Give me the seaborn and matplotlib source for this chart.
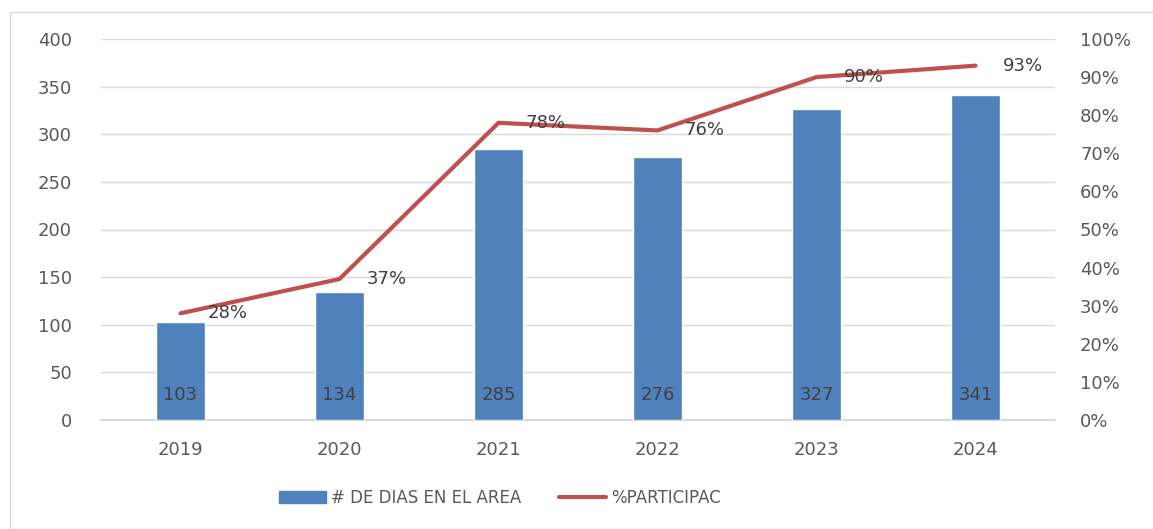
import numpy as np
import pandas as pd
import seaborn as sns
import matplotlib.pyplot as plt
import matplotlib.patches as mpatches
import matplotlib.lines as mlines
from matplotlib.ticker import FuncFormatter

years = ["2019", "2020", "2021", "2022", "2023", "2024"]
dias = [103, 134, 285, 276, 327, 341]
particip = [28, 37, 78, 76, 90, 93]

bar_label = "# DE DIAS EN EL AREA"
line_label = "%PARTICIPAC"

blue = "#4F81BD"
red = "#C0504D"
txt = "#595959"

sns.set_style("white")
plt.rcParams['font.family'] = ['DejaVu Sans']

df = pd.DataFrame({"year": years, "dias": dias, "pct": particip})

fig = plt.figure(figsize=(11.53, 5.29), dpi=100)
ax = fig.add_axes([101/1153, 109/529, 954/1153, 381/529])

sns.barplot(data=df, x="year", y="dias", color=blue, width=0.31,
            saturation=1, ax=ax, zorder=2)
ax.set_ylim(0, 400)
ax.set_xlim(-0.5, 5.5)
ax.set_yticks(np.arange(0, 401, 50))
ax.grid(axis='y', color="#D9D9D9", linewidth=1, zorder=0)
ax.axhline(0, color="#D9D9D9", linewidth=1.5, zorder=1, clip_on=False)
ax.set_axisbelow(True)
ax.set_xlabel("")
ax.set_ylabel("")
ax.tick_params(axis='both', length=0, labelsize=13, colors=txt)
ax.tick_params(axis='y', pad=21)
ax.tick_params(axis='x', pad=15)
sns.despine(ax=ax, left=True, bottom=True, right=True, top=True)

for i, v in enumerate(dias):
    ax.text(i, 26, str(v), ha='center', va='center', fontsize=13, color="#404040")

ax2 = ax.twinx()
sns.lineplot(x=np.arange(len(years)), y=particip, color=red, linewidth=3,
             ax=ax2, zorder=3)
ax2.set_ylim(0, 100)
ax2.set_yticks(np.arange(0, 101, 10))
ax2.yaxis.set_major_formatter(FuncFormatter(lambda v, p: f"{int(v)}%"))
ax2.tick_params(axis='y', length=0, labelsize=13, colors=txt, pad=18)
sns.despine(ax=ax2, left=True, bottom=True, right=True, top=True)
ax2.set_xlim(-0.5, 5.5)

for i, v in enumerate(particip):
    ax2.annotate(f"{v}%", xy=(i, v), xytext=(27, 0), textcoords='offset pixels',
                 ha='left', va='center', fontsize=13, color="#404040")

legend = [mpatches.Patch(color=blue, label=bar_label),
          mlines.Line2D([], [], color=red, linewidth=3, label=line_label)]
fig.legend(handles=legend, loc='center', bbox_to_anchor=(500/1153, 31/529),
           ncol=2, frameon=False, fontsize=12, labelcolor=txt,
           handlelength=2.8, handletextpad=0.3, columnspacing=2.3)

fig.patches.append(mpatches.Rectangle((10/1153, 0), 1.2, 517/529,
                                      transform=fig.transFigure, fill=False,
                                      edgecolor="#D9D9D9", linewidth=1))

plt.savefig("out.png", dpi=100)
plt.close()
